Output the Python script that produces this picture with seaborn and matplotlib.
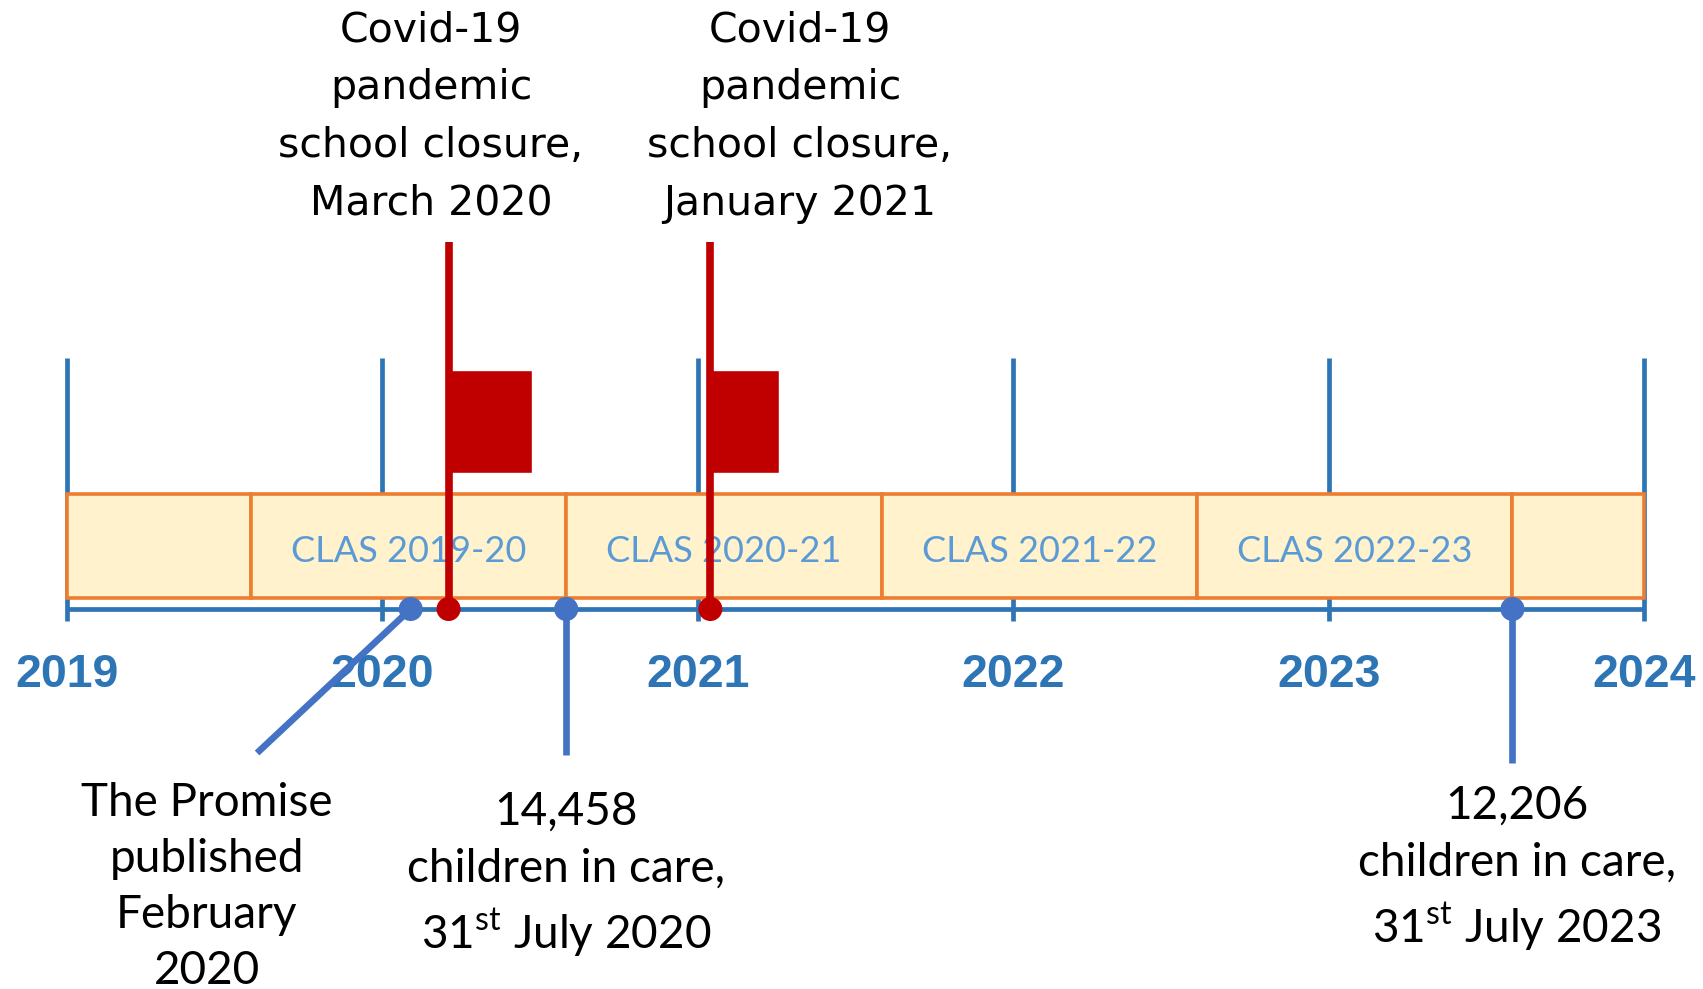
import matplotlib
matplotlib.use("Agg")
import matplotlib.pyplot as plt
import pandas as pd
import seaborn as sns

sns.set_theme(style="white")
plt.rcParams["font.family"] = ["Lato", "DejaVu Sans"]
plt.rcParams["mathtext.fontset"] = "custom"
plt.rcParams["mathtext.rm"] = "Lato"

# ---------------------------------------------------------------------------
# Data
# ---------------------------------------------------------------------------
years = [2019, 2020, 2021, 2022, 2023, 2024]

clas_starts = [2019.0, 2019.583, 2020.583, 2021.583, 2022.583, 2023.583]
clas_ends = [2019.583, 2020.583, 2021.583, 2022.583, 2023.583, 2024.0]
clas_labels = ["", "CLAS 2019-20", "CLAS 2020-21", "CLAS 2021-22", "CLAS 2022-23", ""]

covid_dates = [2020.21, 2021.04]
covid_flag_widths = [0.265, 0.217]
covid_labels = [
    "Covid-19\npandemic\nschool closure,\nMarch 2020",
    "Covid-19\npandemic\nschool closure,\nJanuary 2021",
]
covid_label_x = [2020.154, 2021.324]

event_dates = [2020.09, 2020.583, 2023.583]
event_end_x = [2019.603, 2020.583, 2023.583]
event_end_y = [-144, -146, -154]
event_labels = [
    "The Promise\npublished\nFebruary\n2020",
    "14,458\nchildren in care,\n31$^{\\mathrm{st}}$ July 2020",
    "12,206\nchildren in care,\n31$^{\\mathrm{st}}$ July 2023",
]
event_label_x = [2019.444, 2020.583, 2023.597]
event_label_y = [-278, -266, -260]

# ---------------------------------------------------------------------------
# Style
# ---------------------------------------------------------------------------
AXIS_BLUE = "#2E75B6"
EVENT_BLUE = "#4472C4"
RED = "#C00000"
BOX_FILL = "#FFF2CC"
BOX_EDGE = "#ED7D31"
CLAS_TEXT = "#5B9BD5"

fig = plt.figure(figsize=(17.03, 9.89), dpi=100)
ax = fig.add_axes([0, 0, 1, 1])
ax.set_xlim(2018.788, 2024.187)
ax.set_ylim(-380, 609)
ax.axis("off")

# year ticks and baseline
ax.vlines(years, -12, 251, color=AXIS_BLUE, lw=3.4, zorder=1)
ax.hlines(0, years[0], years[-1], color=AXIS_BLUE, lw=3.4, zorder=1)
for yr in years:
    ax.text(yr, -66, str(yr), ha="center", va="center", fontsize=33.5,
            fontweight="bold", color=AXIS_BLUE, family=["Liberation Sans", "DejaVu Sans"])

# CLAS boxes
widths = [e - s for s, e in zip(clas_starts, clas_ends)]
ax.barh(11, widths, left=clas_starts, height=104, align="edge",
        color=BOX_FILL, edgecolor=BOX_EDGE, linewidth=2.6, zorder=2)
for s, e, lab in zip(clas_starts, clas_ends, clas_labels):
    if lab:
        ax.text((s + e) / 2, 57, lab, ha="center", va="center", fontsize=26,
                fontweight="normal", color=CLAS_TEXT, zorder=3)

# Covid flags
ax.bar(covid_dates, 103, width=covid_flag_widths, bottom=136, align="edge",
       color=RED, zorder=3)
ax.vlines(covid_dates, 0, 367, color=RED, lw=5.5, zorder=4)
covid_df = pd.DataFrame({"x": covid_dates, "y": [0] * len(covid_dates)})
sns.scatterplot(data=covid_df, x="x", y="y", ax=ax, color=RED, s=300,
                edgecolor="none", zorder=5, legend=False)
for x, lab in zip(covid_label_x, covid_labels):
    ax.text(x, 492, lab, ha="center", va="center", fontsize=29.5,
            linespacing=1.58, color="black", family=["DejaVu Sans"])

# other events
for x0, x1, y1 in zip(event_dates, event_end_x, event_end_y):
    ax.plot([x0, x1], [0, y1], color=EVENT_BLUE, lw=4.8, zorder=4,
            solid_capstyle="butt")
event_df = pd.DataFrame({"x": event_dates, "y": [0] * len(event_dates)})
sns.scatterplot(data=event_df, x="x", y="y", ax=ax, color=EVENT_BLUE, s=300,
                edgecolor="none", zorder=5, legend=False)
for x, y, lab in zip(event_label_x, event_label_y, event_labels):
    ax.text(x, y, lab, ha="center", va="center", fontsize=33,
            linespacing=1.42, color="black")

fig.savefig("out.png", dpi=100)
